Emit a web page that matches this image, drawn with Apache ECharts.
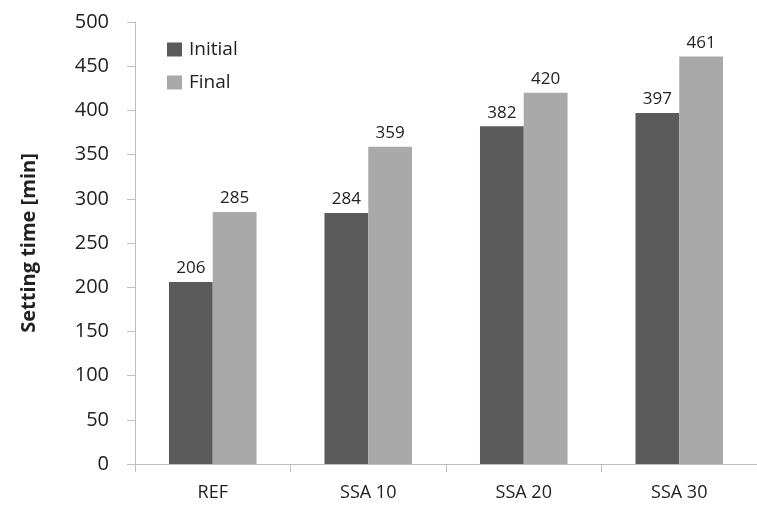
<!DOCTYPE html>
<html>
<head>
<meta charset="utf-8">
<script src="https://cdn.jsdelivr.net/npm/echarts@6/dist/echarts.min.js"></script>
<style>
  html, body { margin: 0; padding: 0; background: #fff; }
  #chart { width: 757px; height: 512px; }
</style>
</head>
<body>
<div id="chart"></div>
<script>
// Setting times per mix, initial and final
const categories = ['REF', 'SSA 10', 'SSA 20', 'SSA 30'];
const initialTimes = [206, 284, 382, 397];
const finalTimes = [285, 359, 420, 461];
const yTicks = [0, 50, 100, 150, 200, 250, 300, 350, 400, 450, 500];

const FONT = '"Open Sans", sans-serif';
const chart = echarts.init(document.getElementById('chart'), null, { renderer: 'canvas' });

const labelStyle = {
  show: true,
  position: 'top',
  distance: 5,
  color: '#222',
  fontFamily: FONT,
  fontSize: 17
};

chart.setOption({
  animation: false,
  backgroundColor: '#fff',
  grid: { left: 135, right: -10, top: 22, bottom: 48, containLabel: false },
  legend: {
    orient: 'vertical',
    left: 162,
    top: 35,
    itemWidth: 15,
    itemHeight: 14,
    itemGap: 14,
    icon: 'rect',
    textStyle: { fontFamily: FONT, fontSize: 19, color: '#222', padding: [0, 0, 0, 2] },
    data: ['Initial', 'Final']
  },
  xAxis: {
    type: 'category',
    data: categories,
    axisLine: { lineStyle: { color: '#bdbdbd', width: 1 } },
    axisTick: { show: true, alignWithLabel: false, length: 8, lineStyle: { color: '#bdbdbd' } },
    axisLabel: { color: '#222', fontFamily: FONT, fontSize: 18, margin: 20 }
  },
  yAxis: {
    type: 'value',
    min: yTicks[0],
    max: yTicks[yTicks.length - 1],
    interval: yTicks[1] - yTicks[0],
    name: 'Setting time [min]',
    nameLocation: 'middle',
    nameGap: 96,
    nameTextStyle: { fontFamily: FONT, fontSize: 20, fontWeight: 'bold', color: '#222' },
    axisLine: { show: true, lineStyle: { color: '#bdbdbd', width: 1 } },
    axisTick: { show: true, inside: false, length: 8, lineStyle: { color: '#bdbdbd' } },
    splitLine: { show: false },
    axisLabel: { color: '#222', fontFamily: FONT, fontSize: 20, margin: 26 }
  },
  series: [
    {
      name: 'Initial',
      type: 'bar',
      data: initialTimes,
      barGap: '0%',
      barCategoryGap: '43.7%',
      itemStyle: { color: '#5b5b5b' },
      label: labelStyle
    },
    {
      name: 'Final',
      type: 'bar',
      data: finalTimes,
      barGap: '0%',
      barCategoryGap: '43.7%',
      itemStyle: { color: '#a9a9a9' },
      label: labelStyle
    }
  ]
});
</script>
</body>
</html>
